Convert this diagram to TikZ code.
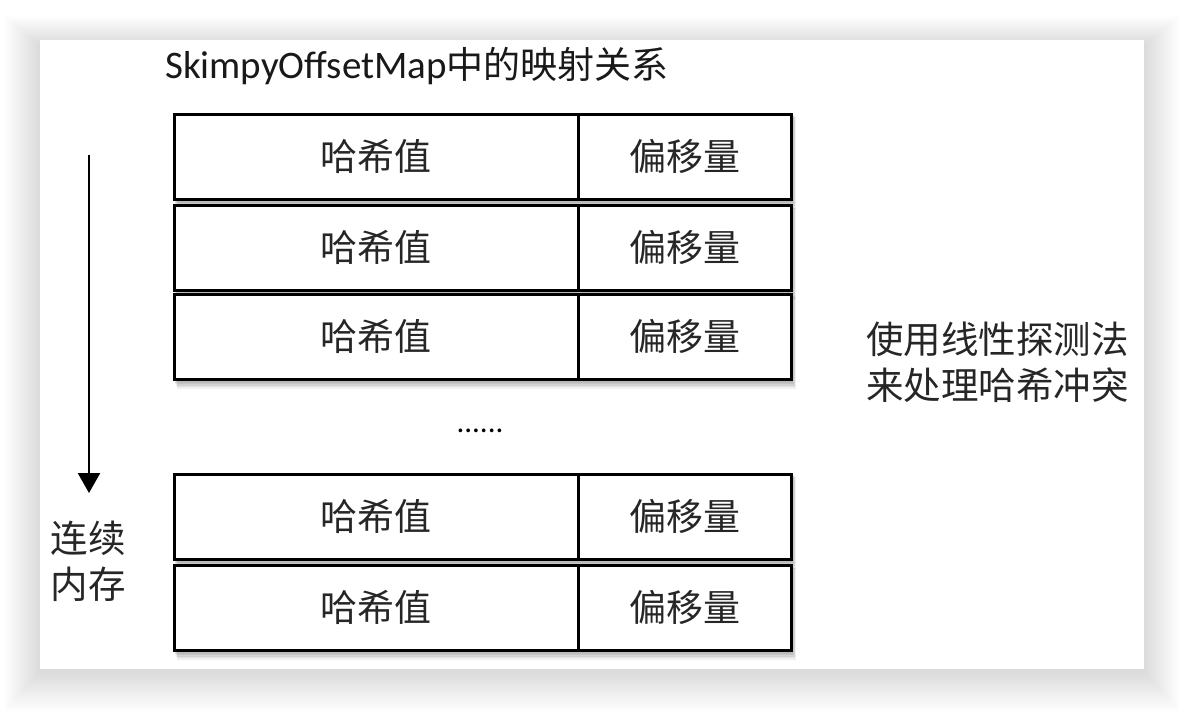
\documentclass[tikz,border=0pt]{standalone}
\usepackage{fontspec}
\setmainfont{Carlito}
\newfontfamily\cjk{Noto Sans CJK SC}
\usetikzlibrary{arrows.meta}
\tikzset{
  cell/.style={draw=black, line width=2.6pt, fill=white, inner sep=0pt, anchor=north west,
    minimum height=85pt, font=\cjk\fontsize{37}{40}\selectfont, text=black!85},
  hashcell/.style={cell, minimum width=404pt},
  offcell/.style={cell, minimum width=213pt},
  label/.style={font=\cjk\fontsize{37.5}{46}\selectfont, text=black!85, inner sep=0pt},
}
\begin{document}
\begin{tikzpicture}[x=1pt,y=-1pt]
\useasboundingbox (0,0) rectangle (1184,710);
\fill[white] (0,0) rectangle (1184,710);
% card shadow
\foreach \i in {1,...,36}{
  \fill[black, opacity=0.0028] (40-\i,40-0.8*\i+5) rectangle (1144+\i,669+1.1*\i+3);
}
\fill[white] (40,40) rectangle (1144,669);
% title
\node[anchor=west, inner sep=0pt, font=\fontsize{39}{42}\selectfont, text=black!90] (title) at (165,66)
  {SkimpyOffsetMap{\cjk\fontsize{37}{42}\selectfont 中的映射关系}};
% row shadows
\foreach \t in {113,204,293,473,564}{
  \foreach \k in {1,...,7}{
    \fill[black, opacity=0.06] (173+\k*0.6,\t+\k*0.6) rectangle (790+\k*0.9,\t+85+\k*1.5);
  }
}
% rows
\node[hashcell] (h1) at (173,113) {哈希值};
\node[offcell]  (o1) at (577,113) {偏移量};
\node[hashcell] (h2) at (173,204) {哈希值};
\node[offcell]  (o2) at (577,204) {偏移量};
\node[hashcell] (h3) at (173,293) {哈希值};
\node[offcell]  (o3) at (577,293) {偏移量};
\node[hashcell] (h4) at (173,473) {哈希值};
\node[offcell]  (o4) at (577,473) {偏移量};
\node[hashcell] (h5) at (173,564) {哈希值};
\node[offcell]  (o5) at (577,564) {偏移量};
% dots
\node[inner sep=0pt, font=\fontsize{31}{31}\selectfont] (dots) at (480,431) {......};
% arrow
\coordinate (a1) at (89,155);
\coordinate (a2) at (89,493);
\draw[line width=2.4pt, -{Triangle[width=22pt,length=20pt]}] (a1) -- (a2);
\node[label, align=center] (mem) at (88,561) {连续\\内存};
% right note
\node[label, align=left, anchor=west] (note) at (866,362) {使用线性探测法\\来处理哈希冲突};
\end{tikzpicture}
\end{document}
